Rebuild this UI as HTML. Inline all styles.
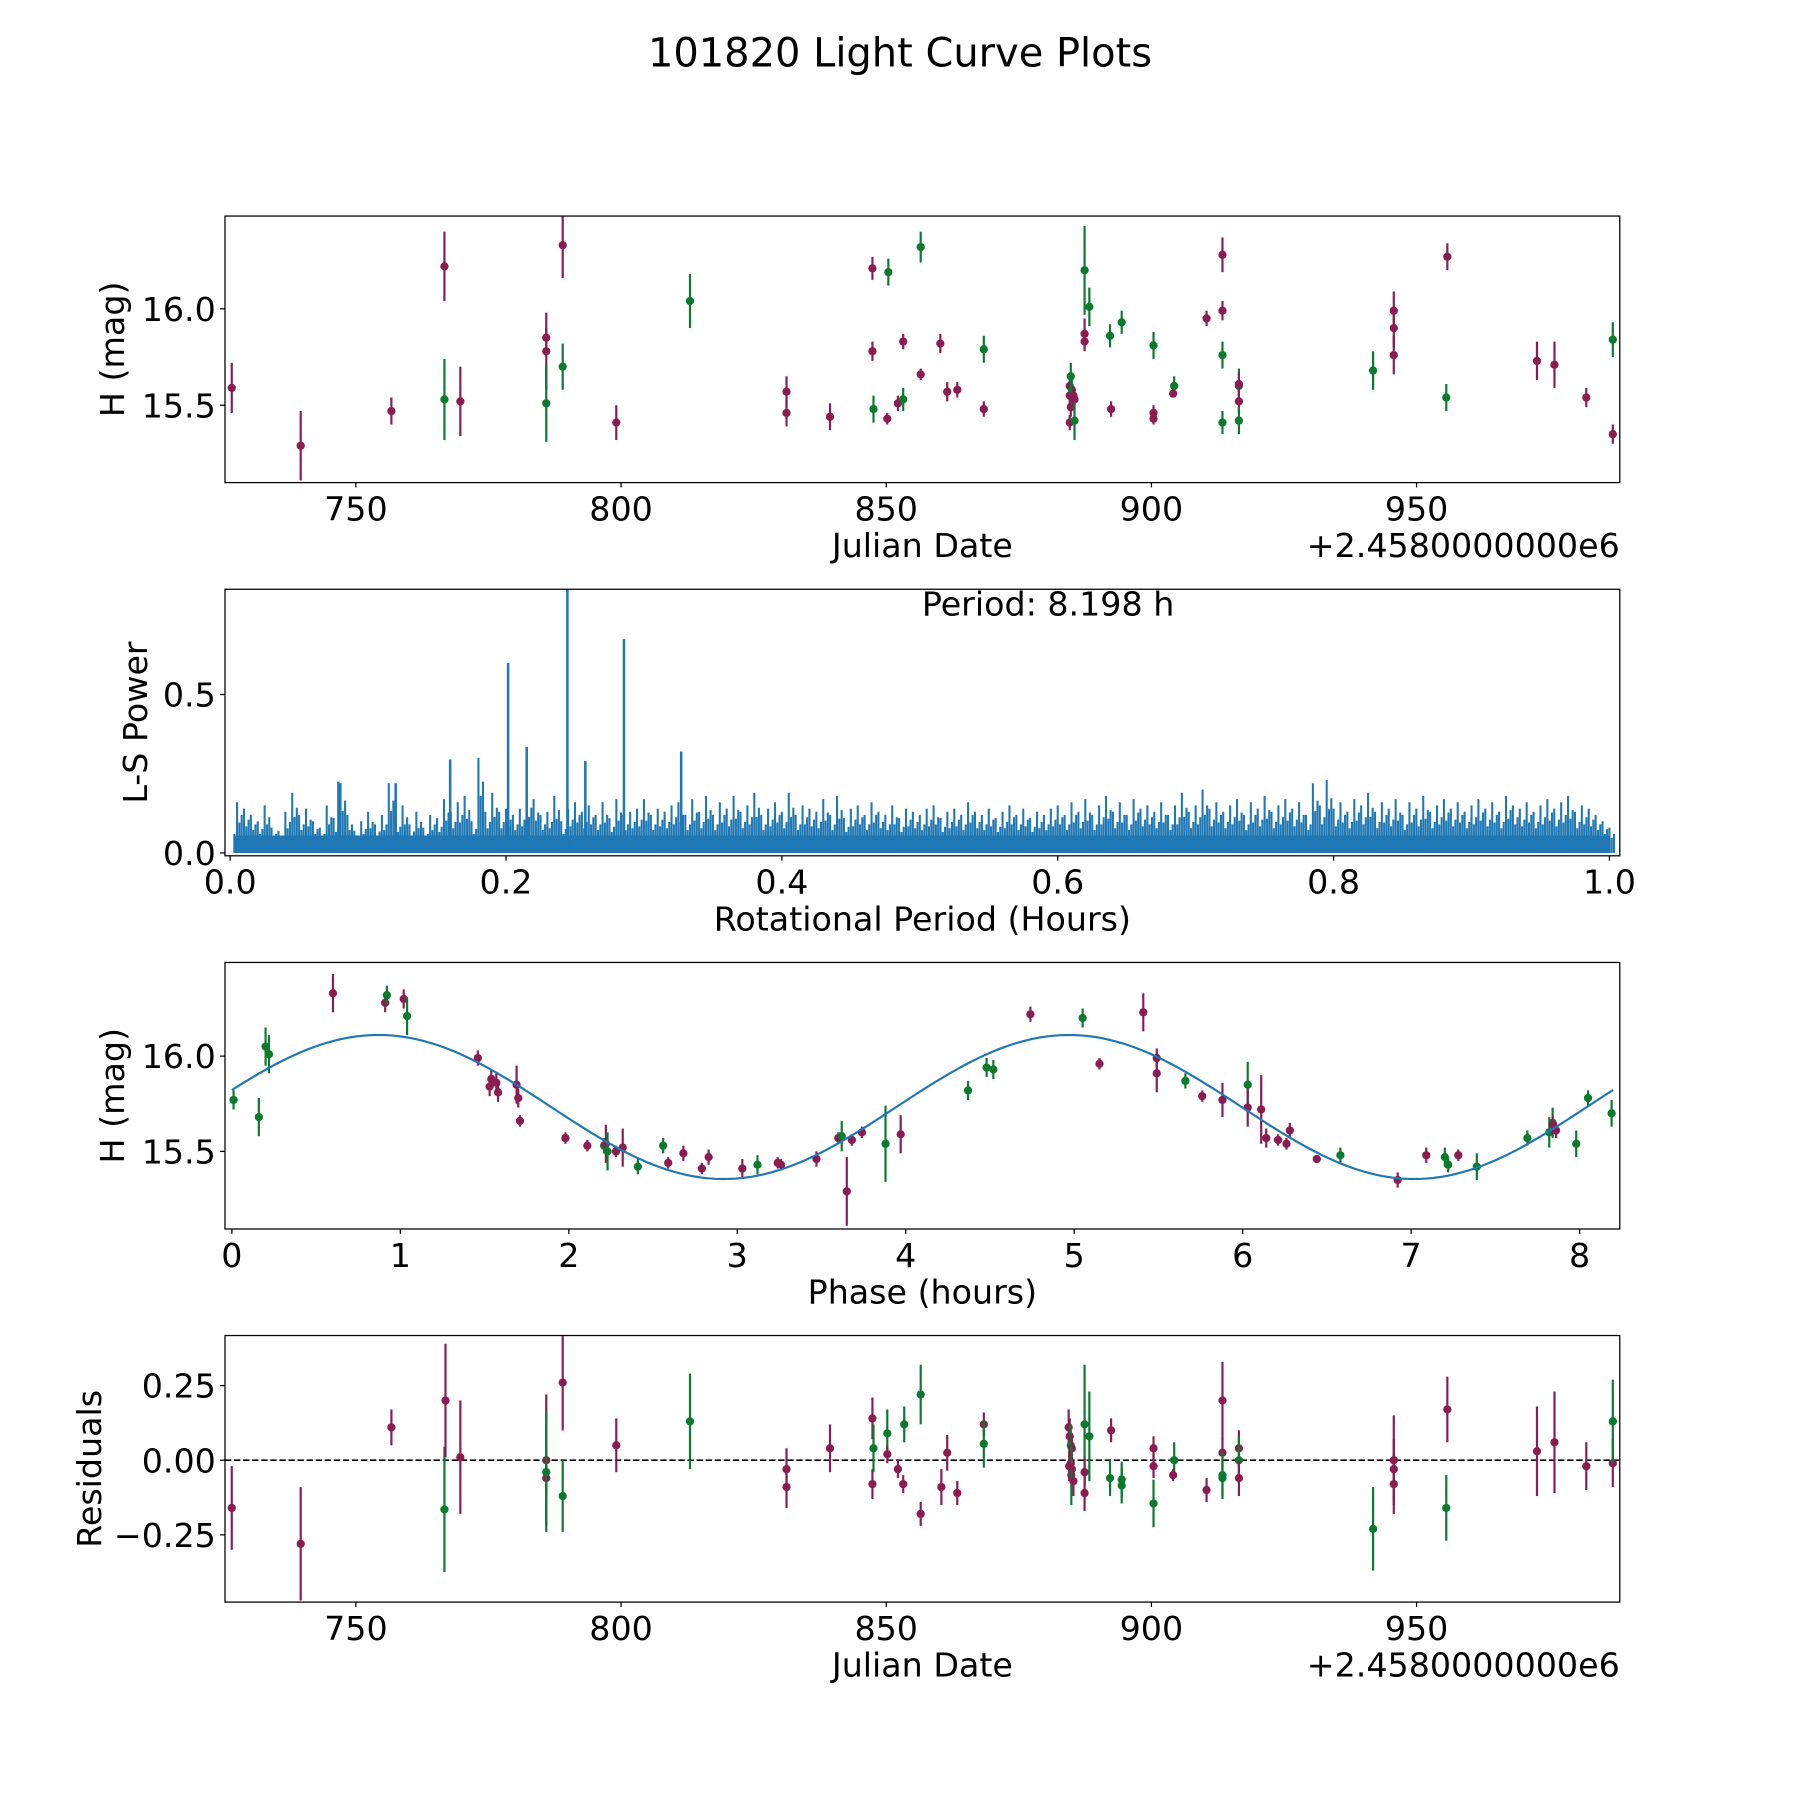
<!DOCTYPE html>
<html><head><meta charset="utf-8"><style>
html,body{margin:0;padding:0;background:#fff;}
svg{display:block;}
text{font-family:"DejaVu Sans","Liberation Sans",sans-serif;fill:#000;}
</style></head>
<body>
<svg id="fig" xmlns="http://www.w3.org/2000/svg" width="1800" height="1800" viewBox="0 0 1568 1568">
<rect width="1568" height="1568" fill="#fff"/>
<text x="784" y="58" font-size="34.8" text-anchor="middle">101820 Light Curve Plots</text>
</svg>
<script>
// ---- Panel 1: light curve (JD, H mag, error, band) ----
const jd1 = [726.6,739.6,756.7,766.7,766.7,769.7,785.9,785.9,785.9,789.0,789.0,799.1,813.0,831.2,831.2,839.4,847.4,847.4,847.6,850.2,850.4,852.2,853.2,853.2,856.5,856.5,860.2,861.5,863.4,868.4,868.4,884.6,884.6,884.6,884.8,884.8,885.0,885.5,885.5,885.3,887.4,888.3,887.4,887.4,892.4,892.2,894.4,900.4,900.4,900.4,904.3,904.1,910.4,913.4,913.4,913.4,913.4,916.5,916.5,916.5,916.5,941.8,945.7,945.7,945.7,955.6,955.8,972.7,976.0,982.0,987.0,987.0];
const h1 = [15.59,15.29,15.47,15.53,16.22,15.52,15.78,15.85,15.51,15.70,16.33,15.41,16.04,15.57,15.46,15.44,16.21,15.78,15.48,15.43,16.19,15.51,15.53,15.83,16.32,15.66,15.82,15.57,15.58,15.79,15.48,15.60,15.55,15.41,15.49,15.65,15.58,15.53,15.42,15.55,16.20,16.01,15.87,15.83,15.48,15.86,15.93,15.81,15.46,15.43,15.60,15.56,15.95,16.28,15.99,15.76,15.41,15.60,15.61,15.52,15.42,15.68,15.99,15.90,15.76,15.54,16.27,15.73,15.71,15.54,15.35,15.84];
const e1 = [.13,.18,.07,.21,.18,.18,.2,.05,.2,.12,.17,.09,.14,.08,.07,.07,.06,.05,.07,.03,.07,.04,.06,.04,.08,.03,.05,.05,.04,.07,.04,.06,.06,.04,.05,.07,.08,.05,.1,.05,.23,.1,.08,.05,.04,.06,.06,.07,.04,.03,.05,.02,.04,.09,.05,.07,.06,.09,.06,.06,.07,.10,.1,.1,.1,.07,.07,.1,.12,.05,.05,.09];
const c1 = ("mmmgmmmmgg"+"mmgmmmmmgm"+"gmgmgmmmmg"+"mmmmmggmgm"+"ggmmmgggmm"+"gmmmmgggmm"+"ggmmmgmmmm"+"mg").split("");
// ---- Panel 2: Lomb-Scargle periodogram ----
const lsStep = 0.005;
const lsPower = [0.06,0.16,0.14,0.12,0.10,0.15,0.08,0.07,0.13,0.19,0.12,0.14,0.10,0.08,0.15,0.11,0.22,0.12,0.07,0.10,
0.13,0.09,0.12,0.22,0.11,0.15,0.09,0.13,0.08,0.12,0.11,0.17,0.13,0.16,0.18,0.10,0.30,0.13,0.19,0.13,
0.14,0.12,0.14,0.19,0.17,0.12,0.13,0.18,0.10,0.14,0.16,0.13,0.15,0.12,0.16,0.11,0.17,0.12,0.13,0.14,
0.17,0.12,0.14,0.13,0.15,0.16,0.12,0.17,0.13,0.18,0.12,0.16,0.14,0.18,0.13,0.15,0.19,0.12,0.14,0.16,
0.13,0.19,0.12,0.15,0.14,0.13,0.17,0.12,0.18,0.11,0.14,0.15,0.12,0.16,0.13,0.12,0.15,0.11,0.14,0.13,
0.12,0.14,0.15,0.11,0.13,0.14,0.12,0.16,0.13,0.12,0.14,0.11,0.13,0.15,0.12,0.14,0.11,0.13,0.12,0.14,
0.15,0.12,0.16,0.13,0.17,0.12,0.15,0.18,0.13,0.16,0.12,0.17,0.14,0.15,0.13,0.16,0.12,0.15,0.19,0.13,
0.15,0.20,0.14,0.16,0.13,0.15,0.17,0.12,0.16,0.14,0.18,0.13,0.15,0.17,0.14,0.16,0.12,0.22,0.15,0.23,
0.14,0.16,0.13,0.17,0.15,0.19,0.13,0.16,0.14,0.17,0.12,0.16,0.14,0.18,0.13,0.15,0.17,0.14,0.16,0.13,
0.15,0.17,0.14,0.16,0.13,0.18,0.15,0.14,0.16,0.13,0.15,0.17,0.14,0.16,0.18,0.13,0.15,0.14,0.12,0.10,0.08];
const peakPeriods = [0.0785,0.12,0.1595,0.2015,0.215,0.2445,0.2575,0.2855,0.327];
const peakPowers = [0.225,0.22,0.295,0.60,0.335,0.85,0.29,0.675,0.32];
// ---- Panel 3: phased light curve ----
const ph3 = [0.01,0.16,0.20,0.22,0.60,0.91,0.92,1.02,1.04,1.46,1.53,1.54,1.57,1.58,1.69,1.70,1.71,1.98,2.11,2.21,2.21,2.22,2.23,2.28,2.32,2.41,2.56,2.59,2.68,2.79,2.83,3.03,3.12,3.24,3.26,3.47,3.60,3.62,3.65,3.68,3.74,3.88,3.97,4.37,4.48,4.52,4.74,5.05,5.15,5.41,5.49,5.49,5.66,5.76,6.03,5.88,6.03,6.11,6.14,6.21,6.26,6.28,6.44,6.58,6.92,7.09,7.20,7.22,7.28,7.39,7.69,7.82,7.84,7.84,7.86,7.98,8.05,8.19];
const h3 = [15.77,15.68,16.05,16.01,16.33,16.28,16.32,16.30,16.21,15.99,15.84,15.88,15.86,15.81,15.85,15.78,15.66,15.57,15.53,15.53,15.53,15.54,15.50,15.50,15.52,15.42,15.53,15.44,15.49,15.41,15.47,15.41,15.43,15.44,15.43,15.46,15.57,15.58,15.29,15.56,15.60,15.54,15.59,15.82,15.94,15.93,16.22,16.20,15.96,16.23,15.99,15.91,15.87,15.79,15.85,15.77,15.73,15.72,15.57,15.56,15.54,15.61,15.46,15.48,15.35,15.48,15.47,15.43,15.48,15.42,15.57,15.60,15.65,15.64,15.61,15.54,15.78,15.70];
const e3 = [.05,.1,.1,.1,.1,.05,.05,.05,.1,.04,.05,.05,.05,.05,.1,.05,.03,.03,.03,.04,.04,.1,.1,.03,.1,.04,.04,.03,.04,.03,.04,.05,.05,.03,.03,.04,.03,.08,.18,.03,.03,.2,.1,.05,.05,.05,.04,.05,.03,.1,.05,.1,.04,.03,.12,.09,.1,.18,.05,.03,.03,.04,.02,.04,.04,.04,.05,.04,.03,.07,.04,.08,.08,.05,.04,.07,.04,.07];
const c3 = ("ggggmmgmgm"+"mmmmmmmmmm"+"gmgmmggmmm"+"mmgmmmmgmm"+"mgmgggmgmm"+"mmgmgmmmmm"+"mmmgmmggmg"+"gggmmggg").split("");
const fitPeriod = 8.198, fitMean = 15.733, fitAmp = 0.378, fitPeak = 0.87;
// ---- Panel 4: residuals ----
const jd4 = [726.6,739.6,756.7,766.7,766.9,769.7,785.9,785.9,785.9,789.0,789.0,799.1,813.0,831.2,831.2,839.4,847.4,847.4,847.6,850.2,850.2,852.2,853.4,853.2,856.5,856.5,860.4,861.5,863.4,868.4,868.4,884.4,884.6,884.8,884.8,885.0,885.0,884.9,885.3,884.5,887.4,887.4,887.4,888.3,892.4,892.2,894.4,894.4,900.4,900.4,900.4,904.3,904.1,910.4,913.4,913.4,913.4,913.4,916.5,916.5,916.5,941.8,945.7,945.7,945.7,955.8,955.6,972.7,976.0,982.0,987.0,987.0];
const r4 = [-0.16,-0.28,0.11,-0.165,0.20,0.01,0.00,-0.06,-0.04,0.26,-0.12,0.05,0.13,-0.03,-0.09,0.04,0.14,-0.08,0.04,0.09,0.02,-0.03,0.12,-0.08,0.22,-0.18,-0.09,0.025,-0.11,0.12,0.055,0.11,0.08,0.05,-0.01,0.04,-0.03,-0.05,-0.07,-0.02,0.12,-0.04,-0.11,0.08,0.10,-0.06,-0.085,-0.065,0.04,-0.02,-0.145,0.0,-0.05,-0.10,0.20,0.025,-0.05,-0.06,0.04,0.0,-0.06,-0.23,0.0,-0.03,-0.08,0.17,-0.16,0.03,0.06,-0.02,-0.01,0.13];
const e4 = [.14,.19,.06,.21,.19,.19,.22,.05,.2,.16,.12,.09,.16,.07,.07,.08,.07,.05,.08,.08,.03,.03,.06,.03,.1,.04,.06,.06,.04,.04,.08,.06,.06,.07,.05,.05,.05,.1,.05,.05,.2,.05,.06,.15,.04,.06,.06,.06,.04,.04,.08,.06,.02,.04,.13,.05,.08,.06,.06,.08,.06,.14,.15,.1,.1,.11,.11,.15,.17,.08,.08,.14];
const c4 = ("mmmgmmmmgm"+"gmgmmmmmgg"+"mmgmgmmmmm"+"gmmgmmmgmm"+"gmmgmgggmm"+"ggmmmmggmg"+"mgmmmmgmmm"+"mg").split("");

const NS = "http://www.w3.org/2000/svg";
const svg = document.getElementById("fig");
const COL = {m:"#8b1c52", g:"#0b7a2e"};
const L = 196, R = 1411, PH = 232.2;
const tops = [188.2, 513.3, 838.4, 1163.4];
function mk(tag, attrs, parent){ const e=document.createElementNS(NS,tag); for(const k in attrs) e.setAttribute(k,attrs[k]); (parent||svg).appendChild(e); return e; }

const xJD = jd => 310 + (jd-750)*4.62;
const yH1 = h => 269 - (h-16.0)*168;
const xLS = p => 200.5 + p*1201.5;
const yLS = v => 743 - v*276;
const xPh = t => 202 + t*146.75;
const yH3 = h => 920 - (h-16.0)*166;
const yRes = r => 1272 - r*260;

function frame(i, name){
  const g = mk("g", {});
  
  
  return g;
}
function clipFor(i){
  const cp = mk("clipPath",{id:"clip"+i});
  mk("rect",{x:L,y:tops[i],width:R-L,height:PH},cp);
  return "url(#clip"+i+")";
}
function box(i, g){
  const r = mk("rect",{x:L,y:tops[i],width:R-L,height:PH,fill:"none",stroke:"#000","stroke-width":1.1}, g);
  
  
}
function xticks(i, g, vals, labs, fx){
  const b = tops[i]+PH;
  vals.forEach((v,k)=>{
    const x = fx(v);
    mk("line",{x1:x,x2:x,y1:b,y2:b+4.2,stroke:"#000","stroke-width":1.1},g);
    const t = mk("text",{x:x,y:b+33,"font-size":29,"text-anchor":"middle"},g);
    t.textContent = labs[k];
    
    
  });
}
function yticks(i, g, vals, labs, fy){
  vals.forEach((v,k)=>{
    const y = fy(v);
    mk("line",{x1:L-4.2,x2:L,y1:y,y2:y,stroke:"#000","stroke-width":1.1},g);
    const t = mk("text",{x:L-8,y:y+10.5,"font-size":29,"text-anchor":"end"},g);
    t.textContent = labs[k];
    
    
  });
}
function ylabel(g, x, i, txt, name){
  const cy = tops[i]+PH/2;
  const t = mk("text",{x:x,y:cy,"font-size":29,"text-anchor":"middle",transform:`rotate(-90 ${x} ${cy})`},g);
  t.textContent = txt;
  
  
}
function xlabel(g, i, txt, name){
  const t = mk("text",{x:(L+R)/2,y:tops[i]+PH+65,"font-size":29,"text-anchor":"middle"},g);
  t.textContent = txt;
  
  
}
function offset(g,i){
  const t = mk("text",{x:R,y:tops[i]+PH+65,"font-size":29,"text-anchor":"end"},g);
  t.textContent = "+2.4580000000e6";
  
  
}
function errpts(g, xs, ys, es, cs, fx, fy, clip, name){
  const pg = mk("g",{"clip-path":clip},g);
  
  
  for(let k=0;k<xs.length;k++){
    const col = COL[cs[k]] || COL.m;
    const x = fx(xs[k]);
    const eb = mk("line",{x1:x,x2:x,y1:fy(ys[k]-es[k]),y2:fy(ys[k]+es[k]),stroke:col,"stroke-width":1.9},pg);
    
    
    const c = mk("circle",{cx:x,cy:fy(ys[k]),r:3.6,fill:col},pg);
    
    
  }
}
const jdTicks=[750,800,850,900,950], jdLabs=["750","800","850","900","950"];

// Panel 1
{
  const g = frame(0,"light-curve-panel"); const cl = clipFor(0);
  errpts(g, jd1, h1, e1, c1, xJD, yH1, cl, "light-curve-points");
  box(0,g);
  xticks(0,g,jdTicks,jdLabs,xJD);
  yticks(0,g,[15.5,16.0],["15.5","16.0"],yH1);
  ylabel(g,108,0,"H (mag)","y-axis-title");
  xlabel(g,0,"Julian Date","x-axis-title");
  offset(g,0);
}
// Panel 2
{
  const g = frame(1,"periodogram-panel"); const cl = clipFor(1);
  const pg = mk("g",{"clip-path":cl},g);
  
  
  const floor = mk("rect",{x:xLS(0.003),y:yLS(0.055),width:xLS(1.0)-xLS(0.003),height:yLS(0)-yLS(0.055),fill:"#1f77b4"},pg);
  
  
  lsPower.forEach((v,k)=>{
    const p = Math.max(0.003, k*lsStep);
    const x = xLS(p);
    const l = mk("line",{x1:x,x2:x,y1:yLS(0),y2:yLS(v),stroke:"#1f77b4","stroke-width":1.8},pg);
    
    
    const x2 = xLS(p+lsStep/3);
    const l2 = mk("line",{x1:x2,x2:x2,y1:yLS(0),y2:yLS(v*0.6),stroke:"#1f77b4","stroke-width":1.8},pg);
    
    
    const x3 = xLS(p+2*lsStep/3);
    const l3 = mk("line",{x1:x3,x2:x3,y1:yLS(0),y2:yLS(v*0.75),stroke:"#1f77b4","stroke-width":1.8},pg);
    
    
  });
  peakPeriods.forEach((p,k)=>{
    const x = xLS(p);
    const l = mk("line",{x1:x,x2:x,y1:yLS(0),y2:yLS(peakPowers[k]),stroke:"#1f77b4","stroke-width":2.2},pg);
    
    
  });
  box(1,g);
  xticks(1,g,[0,0.2,0.4,0.6,0.8,1.0],["0.0","0.2","0.4","0.6","0.8","1.0"],xLS);
  yticks(1,g,[0,0.5],["0.0","0.5"],yLS);
  ylabel(g,128,1,"L-S Power","y-axis-title");
  xlabel(g,1,"Rotational Period (Hours)","x-axis-title");
  const t = mk("text",{x:913,y:536,"font-size":29,"text-anchor":"middle"},g);
  t.textContent = "Period: 8.198 h";
  
  
}
// Panel 3
{
  const g = frame(2,"phased-panel"); const cl = clipFor(2);
  errpts(g, ph3, h3, e3, c3, xPh, yH3, cl, "phased-points");
  let d = "";
  for(let k=0;k<=200;k++){
    const t = fitPeriod*k/200;
    const h = fitMean + fitAmp*Math.cos(2*Math.PI*(t-fitPeak)/(fitPeriod/2));
    d += (k?"L":"M")+xPh(t).toFixed(2)+" "+yH3(h).toFixed(2);
  }
  const fp = mk("path",{d:d,fill:"none",stroke:"#1f77b4","stroke-width":1.9,"clip-path":cl},g);
  
  
  box(2,g);
  xticks(2,g,[0,1,2,3,4,5,6,7,8],["0","1","2","3","4","5","6","7","8"],xPh);
  yticks(2,g,[15.5,16.0],["15.5","16.0"],yH3);
  ylabel(g,108,2,"H (mag)","y-axis-title");
  xlabel(g,2,"Phase (hours)","x-axis-title");
}
// Panel 4
{
  const g = frame(3,"residuals-panel"); const cl = clipFor(3);
  const z = mk("line",{x1:L,x2:R,y1:yRes(0),y2:yRes(0),stroke:"#000","stroke-width":1.4,"stroke-dasharray":"5.5,2.4"},g);
  
  
  errpts(g, jd4, r4, e4, c4, xJD, yRes, cl, "residual-points");
  box(3,g);
  xticks(3,g,jdTicks,jdLabs,xJD);
  yticks(3,g,[-0.25,0,0.25],["\u22120.25","0.00","0.25"],yRes);
  ylabel(g,88,3,"Residuals","y-axis-title");
  xlabel(g,3,"Julian Date","x-axis-title");
  offset(g,3);
}
</script>
</body></html>
